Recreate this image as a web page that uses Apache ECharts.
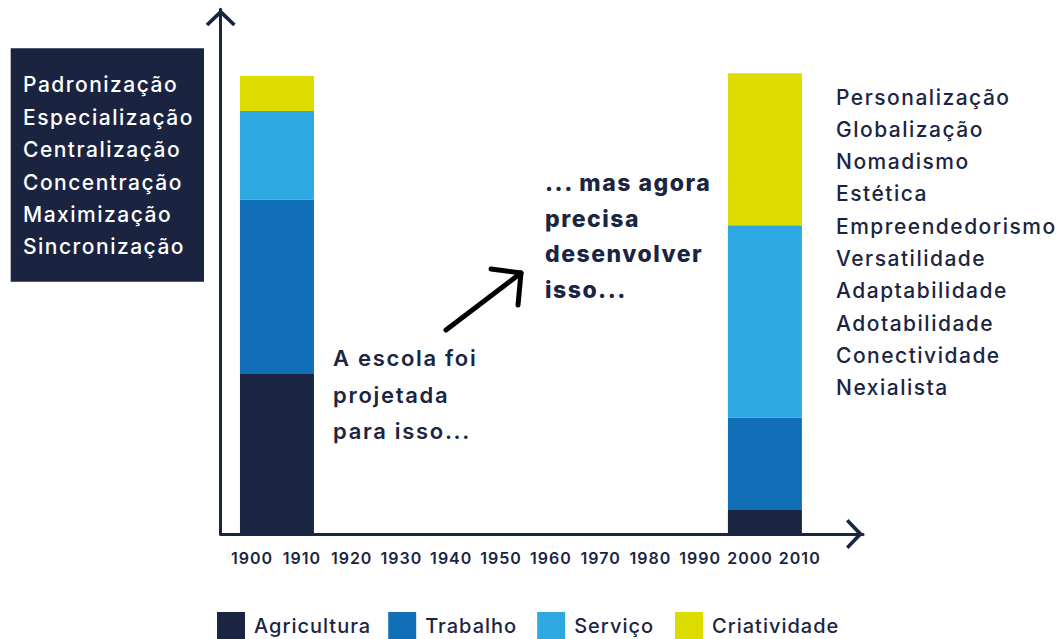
<!DOCTYPE html>
<html>
<head>
<meta charset="utf-8">
<script src="https://cdn.jsdelivr.net/npm/echarts@6/dist/echarts.min.js"></script>
<style>
html,body{margin:0;padding:0;background:#ffffff;}
#chart{width:1063px;height:639px;}
#chart text{letter-spacing:1px;}
#chart text[style*="21px"]{letter-spacing:1.5px;}
#chart text[style*="22px"]{letter-spacing:1.7px;}
#chart text[style*="23px"]{letter-spacing:1.5px;}
</style>
</head>
<body>
<div id="chart"></div>
<script>
// ---- data ----
const tickYears = [1900, 1910, 1920, 1930, 1940, 1950, 1960, 1970, 1980, 1990, 2000, 2010];
const barYears = [1905, 2003];
const agricultura = [34.9, 5.4];
const trabalho = [37.8, 19.9];
const servico = [19.2, 41.8];
const criatividade = [7.6, 33.0];
const seriesNames = ['Agricultura', 'Trabalho', 'Serviço', 'Criatividade'];
const seriesColors = ['#1a2541', '#1170b8', '#2ea8e0', '#dcdc00'];
const leftWords = ['Padronização', 'Especialização', 'Centralização', 'Concentração', 'Maximização', 'Sincronização'];
const rightWords = ['Personalização', 'Globalização', 'Nomadismo', 'Estética', 'Empreendedorismo', 'Versatilidade', 'Adaptabilidade', 'Adotabilidade', 'Conectividade', 'Nexialista'];
const noteBefore = ['A escola foi', 'projetada', 'para isso...'];
const noteAfter = ['... mas agora', 'precisa', 'desenvolver', 'isso...'];

const ink = '#1a2541';
const FONT = 'Inter, "Noto Sans", sans-serif';
const chevron = 'path://M0,14.5 L15,0 L30,14.5 L27.4,17 L15,5.2 L2.6,17 Z';

const valuesBySeries = [agricultura, trabalho, servico, criatividade];
// rows are [value, year] so that the stacked dimension is the value (mapped to y)
const series = seriesNames.map((name, i) => ({
  name: name,
  type: 'bar',
  stack: 'total',
  barWidth: 74,
  encode: { x: 1, y: 0 },
  itemStyle: { color: seriesColors[i] },
  data: barYears.map((yr, j) => [valuesBySeries[i][j], yr])
}));

const chart = echarts.init(document.getElementById('chart'), null, { renderer: 'svg' });
chart.setOption({
  animation: false,
  backgroundColor: '#ffffff',
  grid: { left: 220.7, right: 200, top: 9.3, bottom: 105 },
  xAxis: {
    type: 'value',
    min: 1893.7,
    max: 2022.7,
    splitLine: { show: false },
    axisTick: { show: false },
    axisLine: {
      show: true,
      lineStyle: { color: ink, width: 3 },
      symbol: ['none', chevron],
      symbolSize: [30, 17],
      symbolOffset: [0, -8.5]
    },
    axisLabel: {
      customValues: tickYears,
      formatter: v => String(v),
      color: ink,
      fontFamily: FONT,
      fontWeight: 600,
      fontSize: 16,
      margin: 16
    }
  },
  yAxis: {
    type: 'value',
    min: 0,
    max: 114,
    splitLine: { show: false },
    axisTick: { show: false },
    axisLabel: { show: false },
    axisLine: {
      show: true,
      lineStyle: { color: ink, width: 3 },
      symbol: ['none', chevron],
      symbolSize: [30, 17],
      symbolOffset: [0, -8.5]
    }
  },
  legend: {
    left: 217,
    top: 612,
    padding: 0,
    icon: 'rect',
    itemWidth: 28,
    itemHeight: 27,
    itemGap: 28,
    data: seriesNames,
    textStyle: { color: ink, fontFamily: FONT, fontWeight: 500, fontSize: 20, padding: [0, 0, 0, 4] }
  },
  graphic: [
    { type: 'rect', x: 10.7, y: 48.3, shape: { width: 193.3, height: 233.4 }, style: { fill: '#1a2440' } },
    { type: 'text', x: 23, y: 68.8, style: { text: leftWords.join('\n'), fill: '#ffffff', fontFamily: FONT, fontWeight: 500, fontSize: 21, lineHeight: 32.4, verticalAlign: 'top', align: 'left' } },
    { type: 'text', x: 836, y: 80.9, style: { text: rightWords.join('\n'), fill: ink, fontFamily: FONT, fontWeight: 500, fontSize: 21, lineHeight: 32.3, verticalAlign: 'top', align: 'left' } },
    { type: 'text', x: 333, y: 339.8, style: { text: noteBefore.join('\n'), fill: ink, fontFamily: FONT, fontWeight: 600, fontSize: 22, lineHeight: 36.5, verticalAlign: 'top', align: 'left' } },
    { type: 'text', x: 545, y: 165.2, style: { text: noteAfter.join('\n'), fill: ink, fontFamily: FONT, fontWeight: 800, fontSize: 23, lineHeight: 35.7, verticalAlign: 'top', align: 'left' } },
    { type: 'polyline', shape: { points: [[446, 330], [521, 273]] }, style: { stroke: '#000000', lineWidth: 5, lineCap: 'round', fill: null } },
    { type: 'polyline', shape: { points: [[491, 269], [521, 273], [518, 305]] }, style: { stroke: '#000000', lineWidth: 5, lineCap: 'round', lineJoin: 'round', fill: null } }
  ],
  series: series
});
</script>
</body>
</html>
